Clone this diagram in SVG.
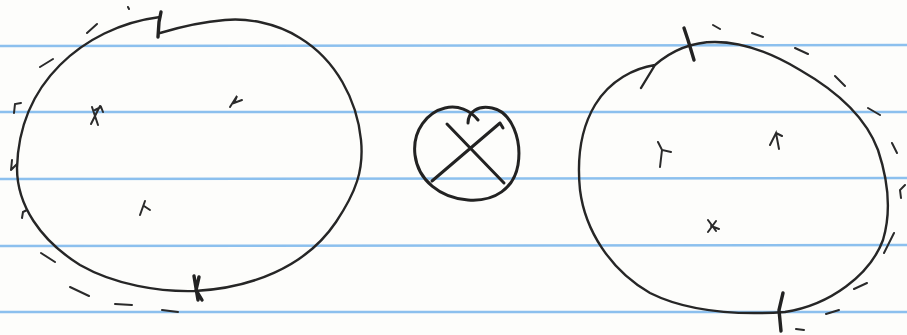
<svg xmlns="http://www.w3.org/2000/svg" width="907" height="335" viewBox="0 0 907 335">
<style>
.rule{stroke:#8cc0ee;stroke-width:2.5}
.ink{fill:none;stroke:#262626;stroke-width:2.4;stroke-linecap:round;stroke-linejoin:round}
.sym{fill:none;stroke:#222;stroke-width:3;stroke-linecap:round;stroke-linejoin:round}
.thick{fill:none;stroke:#222;stroke-width:3.4;stroke-linecap:round}
.mark{fill:none;stroke:#2a2a2a;stroke-width:2;stroke-linecap:round}
</style>
<rect width="907" height="335" fill="#fdfdfb"/>
<g id="paper-lines">
<line class="rule" x1="0" y1="46" x2="907" y2="45"/>
<line class="rule" x1="0" y1="112" x2="907" y2="112"/>
<line class="rule" x1="0" y1="179" x2="907" y2="178"/>
<line class="rule" x1="0" y1="246" x2="907" y2="245"/>
<line class="rule" x1="0" y1="312" x2="907" y2="312"/>
</g>
<g id="left-blob">
<path class="ink" d="M160,17 C120,22 85,40 60,65 C30,95 18,130 17,168 C17,205 40,240 80,265 C115,285 160,292 195,291 C250,288 305,268 336,222 C356,192 364,170 361,140 C357,100 336,60 300,38 C275,22 245,18 225,20 C200,22 180,27 160,33"/>
<path class="thick" d="M158,37 L159,22 L161,12"/>
<path class="thick" d="M194,276 L198,300 M199,277 L196,290 L202,300"/>
<path class="mark" d="M87,33 L97,24 M40,67 L53,59 M14,113 L15,104 L21,103 M11,170 L12,160 M17,164 L11,170 M22,218 L23,212 L27,210 M41,253 L55,262 M70,287 L89,296 M115,304 L132,305 M162,310 L178,312 M128,7 L129,9"/>
<path class="mark" d="M92,107 L98,125 M100,106 L91,124 M95,110 L101,107 L103,112 M230,107 L237,96 L234,103 L242,100 M145,201 L140,215 M144,206 L150,210"/>
</g>
<g id="tensor-symbol">
<path class="sym" d="M468,123 C468,112 478,105 492,108 C512,112 522,140 518,165 C514,188 495,202 468,200 C440,198 418,180 415,155 C412,130 428,112 445,108 C458,105 470,110 478,120"/>
<path class="sym" d="M447,124 L504,183 M500,123 L432,181 M500,123 L503,128"/>
</g>
<g id="right-blob">
<path class="ink" d="M655,65 C635,68 610,80 595,105 C580,130 577,160 580,190 C585,230 610,270 650,293 C690,313 740,315 785,312 C830,305 870,275 883,240 C892,210 888,180 878,150 C865,115 835,90 800,70 C770,52 740,42 715,42 C690,42 670,52 655,65 L641,88"/>
<path class="thick" d="M684,28 L688,40 L694,60"/>
<path class="thick" d="M783,293 L779,310 L781,331"/>
<path class="mark" d="M713,25 L720,29 M752,33 L763,37 M795,48 L808,54 M835,76 L845,86 M868,108 L880,115 M892,143 L897,153 M905,185 L900,190 L901,198 M894,233 L884,253 M867,283 L854,289 M826,314 L839,310 M796,329 L804,330"/>
<path class="mark" d="M658,142 L662,150 L671,152 M662,150 L660,167 M770,145 L776,133 L779,149 M776,133 L782,136 M708,220 L716,231 M716,221 L708,232 M711,226 L719,229"/>
</g>
</svg>
